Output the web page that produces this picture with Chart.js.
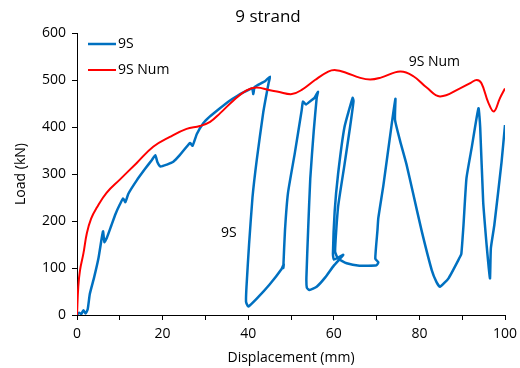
<!DOCTYPE html>
<html>
<head>
<meta charset="utf-8">
<script src="https://cdn.jsdelivr.net/npm/chart.js@4"></script>
<style>
  html, body { margin: 0; padding: 0; background: #fff; }
  #wrap { width: 520px; height: 368px; }
</style>
</head>
<body>
<div id="wrap"><canvas id="strand"></canvas></div>
<script>
// 9S test curve (displacement mm, load kN)
var testX = [0, 0.5, 1, 1.5, 2, 2.5, 3, 4, 5, 5.8, 6.1, 6.4, 7, 8, 9, 10, 10.8, 11.3, 12, 14, 16, 17.5, 18.3, 18.8, 19.5, 21, 22.5, 24, 26.4, 27, 28, 29.5, 31, 33.4, 35.5, 37.4, 39, 40.9, 41.2, 41.5, 43.2, 44, 45.1,
  44.8, 43.5, 42, 41, 40.2, 39.6, 39.5, 40, 42, 45, 47.8, 48.3, 48.2, 48.6, 49.3, 50.9, 52.5, 52.8, 53.5, 54.5, 55.5, 56.3,
  56, 55.3, 54.5, 54, 53.6, 53.7, 54.3, 56, 58, 60, 62.2, 61, 60, 59.8, 60.2, 61, 62.5, 64.4,
  64.6, 63.8, 62.5, 61, 60.3, 61, 63, 66, 70, 70.4, 69.7, 70.2, 70.4, 71.6, 73.5, 74.4,
  74.3, 75.5, 77, 78.5, 80.5, 82.9, 84, 84.8, 86.8, 89.5, 89.8, 90.3, 91, 92.2, 93.8,
  94.2, 94.9, 95.7, 96.2, 96.5, 96.7, 97.5, 99.2, 100];
var testY = [0, 5, 2, 10, 3, 12, 45, 80, 120, 165, 178, 155, 165, 190, 215, 235, 248, 240, 258, 287, 312, 330, 340, 325, 316, 320, 326, 340, 366, 360, 385, 408, 422, 440, 455, 466, 474, 482, 470, 485, 494, 498, 507,
  495, 430, 330, 250, 150, 60, 28, 18, 35, 65, 98, 108, 100, 181, 260, 345, 436, 454, 448, 455, 462, 475,
  462, 390, 290, 180, 80, 58, 53, 60, 80, 105, 128, 122, 118, 130, 220, 300, 400, 462,
  455, 400, 320, 230, 135, 120, 110, 105, 106, 112, 120, 180, 206, 277, 404, 460,
  415, 370, 320, 260, 180, 95, 70, 60, 78, 124, 130, 191, 291, 355, 440,
  400, 241, 149, 100, 78, 142, 191, 326, 404];

// 9S Num curve
var numX = [0, 0.3, 0.7, 1.5, 2.3, 3.3, 4.6, 6.9, 10, 13.9, 17.8, 21.7, 25.6, 28.7, 31.1, 33.4, 36.5, 39.6, 42, 45.1, 47, 50.2, 52.5, 55.6, 58.7, 60.5, 63, 66, 68.5, 71, 75.5, 78.6, 81.7, 84.8, 89.5, 92, 93.4, 94.5, 96.1, 97.4, 98.8, 100];
var numY = [0, 60, 95, 131, 174, 205, 228, 260, 288, 323, 358, 379, 396, 402, 411, 429, 456, 478, 484, 478, 475, 470, 479, 500, 518, 521, 515, 505, 501, 505, 518, 508, 484, 465, 482, 494, 500, 493, 452, 433, 461, 482];

var seriesNames = ['9S', '9S Num'];
var seriesColors = ['#0070C0', '#FF0000'];
var chartTitle = '9 strand';

function pts(xs, ys) {
  return xs.map(function (x, i) { return { x: x, y: ys[i] }; });
}

var FONT = '"Open Sans", "Liberation Sans", sans-serif';

// title, legend inside plot + labels on the curves
var overlay = {
  id: 'overlay',
  afterDraw: function (chart) {
    var ctx = chart.ctx;
    var xs = chart.scales.x, ys = chart.scales.y;
    ctx.save();
    ctx.fillStyle = '#000';
    ctx.textBaseline = 'middle';
    ctx.textAlign = 'center';
    ctx.font = '17px ' + FONT;
    ctx.fillText(chartTitle, 268, 17);

    ctx.font = '14px ' + FONT;
    ctx.textAlign = 'left';
    seriesNames.forEach(function (name, i) {
      var y = 44 + i * 26;
      ctx.strokeStyle = seriesColors[i];
      ctx.lineWidth = i == 0 ? 2.5 : 2;
      ctx.beginPath();
      ctx.moveTo(88, y);
      ctx.lineTo(116, y);
      ctx.stroke();
      ctx.fillText(name, 118, y);
    });
    ctx.textAlign = 'center';
    ctx.fillText('9S Num', xs.getPixelForValue(83.5), ys.getPixelForValue(538));
    ctx.fillText('9S', xs.getPixelForValue(35.5), ys.getPixelForValue(175));
    ctx.restore();
  }
};

var ctx = document.getElementById('strand').getContext('2d');
var chart = new Chart(ctx, {
  type: 'scatter',
  data: {
    datasets: [
      {
        label: seriesNames[1],
        data: pts(numX, numY),
        showLine: true,
        borderColor: seriesColors[1],
        borderWidth: 2,
        pointRadius: 0,
        tension: 0.4
      },
      {
        label: seriesNames[0],
        data: pts(testX, testY),
        showLine: true,
        borderColor: seriesColors[0],
        borderWidth: 2.5,
        pointRadius: 0,
        tension: 0.15
      }
    ]
  },
  options: {
    responsive: true,
    maintainAspectRatio: false,
    animation: false,
    layout: { padding: { top: 33, right: 15, left: 13, bottom: 0 } },
    plugins: {
      legend: { display: false },
      tooltip: { enabled: false },
      title: { display: false }
    },
    scales: {
      x: {
        min: 0, max: 100,
        border: { color: '#000', width: 1 },
        grid: { drawOnChartArea: false, color: '#000', tickLength: 5 },
        ticks: {
          stepSize: 10,
          color: '#000',
          maxRotation: 0,
          autoSkip: false,
          padding: 6,
          font: { family: FONT, size: 14 },
          callback: function (v) { return v % 20 == 0 ? v : ''; }
        },
        title: {
          display: true,
          text: 'Displacement (mm)',
          color: '#000',
          padding: { top: 0, bottom: 2 },
          font: { family: FONT, size: 14 }
        },
        afterFit: function (s) {
          s.height = 53;
          s.paddingLeft = 0;
          s.paddingRight = 0;
        }
      },
      y: {
        min: 0, max: 600,
        border: { color: '#000', width: 1 },
        grid: { drawOnChartArea: false, color: '#000', tickLength: 5 },
        ticks: {
          stepSize: 100,
          color: '#000',
          padding: 6,
          font: { family: FONT, size: 14 }
        },
        title: {
          display: true,
          text: 'Load (kN)',
          color: '#000',
          padding: { top: 0, bottom: 4 },
          font: { family: FONT, size: 14 }
        },
        afterFit: function (s) { s.width = 64; }
      }
    }
  },
  plugins: [overlay]
});
</script>
</body>
</html>
